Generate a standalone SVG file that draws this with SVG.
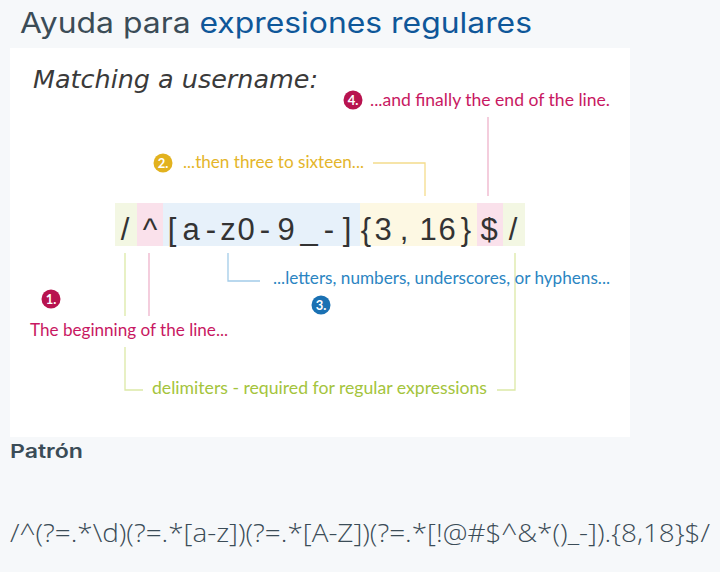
<svg xmlns="http://www.w3.org/2000/svg" width="720" height="572" viewBox="0 0 720 572">
<style>
.lbl{font-family:"Lato","Open Sans","Liberation Sans",sans-serif;font-size:17px}
.mag{fill:#c81862}
.yel{fill:#e4b52a}
.blu{fill:#2b85c2}
.grn{fill:#a4c43c}
.badge-t{font-family:"Lato","Liberation Sans",sans-serif;font-size:13px;font-weight:bold;fill:#fff;text-anchor:middle}
.ln{fill:none;stroke-width:1.3}
.rx{font-family:"Liberation Sans","Lato",sans-serif;font-size:31px;font-weight:normal;fill:#333;text-anchor:middle}
</style>
<rect width="720" height="572" fill="#f6f8fa"/>
<g id="title">
<text x="20" y="33" font-family="Inter,'Open Sans','Liberation Sans',sans-serif" font-size="28" textLength="512" lengthAdjust="spacingAndGlyphs"><tspan fill="#3b4c57">Ayuda para </tspan><tspan fill="#0f5799">expresiones regulares</tspan></text>
</g>
<g id="panel">
<rect x="10" y="48" width="620" height="389" fill="#ffffff"/>
<text x="33" y="88" font-family="'DejaVu Sans',sans-serif" font-style="italic" font-size="24" fill="#3a3a3a" textLength="285" lengthAdjust="spacingAndGlyphs">Matching a username:</text>
</g>
<g id="regex">
<rect x="115" y="203" width="22" height="43" fill="#f3f7e3"/>
<rect x="137" y="203" width="26" height="43" fill="#fae1eb"/>
<rect x="163" y="203" width="197" height="43" fill="#e7f1fa"/>
<rect x="360" y="203" width="117" height="43" fill="#fdf8e3"/>
<rect x="477" y="203" width="26" height="43" fill="#fae1eb"/>
<rect x="503" y="203" width="22" height="43" fill="#f3f7e3"/>
<text class="rx" x="125" y="240">/</text>
<text class="rx" x="150" y="240">^</text>
<text class="rx" x="172" y="240">[</text>
<text class="rx" x="191" y="240">a</text>
<text class="rx" x="211" y="240">-</text>
<text class="rx" x="228" y="240">z</text>
<text class="rx" x="246" y="240">0</text>
<text class="rx" x="265" y="240">-</text>
<text class="rx" x="286" y="240">9</text>
<text class="rx" x="309" y="240">_</text>
<text class="rx" x="329" y="240">-</text>
<text class="rx" x="347" y="240">]</text>
<text class="rx" x="366" y="240">{</text>
<text class="rx" x="383" y="240">3</text>
<text class="rx" x="404" y="240">,</text>
<text class="rx" x="428" y="240">1</text>
<text class="rx" x="447" y="240">6</text>
<text class="rx" x="466" y="240">}</text>
<text class="rx" x="489" y="240">$</text>
<text class="rx" x="513" y="240">/</text>
</g>
<g id="connectors">
<path class="ln" stroke="#eeb3cb" d="M488 117V196"/>
<path class="ln" stroke="#f4dc8c" d="M373 163H425V196"/>
<path class="ln" stroke="#a3cce9" d="M228 253V281H260"/>
<path class="ln" stroke="#eeb3cb" d="M149 253V316"/>
<path class="ln" stroke="#dce9a6" d="M125 253V316"/>
<path class="ln" stroke="#dce9a6" d="M125 347V390H143"/>
<path class="ln" stroke="#dce9a6" d="M497 390H515V253"/>
</g>
<g id="note4">
<circle cx="353" cy="100" r="9.5" fill="#b8134f"/>
<text class="badge-t" x="353" y="104.5">4.</text>
<text class="lbl mag" x="370" y="106" textLength="240" lengthAdjust="spacingAndGlyphs">...and finally the end of the line.</text>
</g>
<g id="note2">
<circle cx="163" cy="163" r="9.5" fill="#e2b21e"/>
<text class="badge-t" x="163" y="167.5">2.</text>
<text class="lbl yel" x="183" y="168" textLength="181" lengthAdjust="spacingAndGlyphs">...then three to sixteen...</text>
</g>
<g id="note3">
<text class="lbl blu" x="273" y="284" textLength="337" lengthAdjust="spacingAndGlyphs">...letters, numbers, underscores, or hyphens...</text>
<circle cx="321" cy="305" r="9.5" fill="#1a71b3"/>
<text class="badge-t" x="321" y="309.5">3.</text>
</g>
<g id="note1">
<circle cx="51" cy="299" r="9.5" fill="#b8134f"/>
<text class="badge-t" x="51" y="303.5">1.</text>
<text class="lbl mag" x="30" y="336" textLength="198" lengthAdjust="spacingAndGlyphs">The beginning of the line...</text>
</g>
<g id="delims">
<text class="lbl grn" x="152" y="394" textLength="335" lengthAdjust="spacingAndGlyphs">delimiters - required for regular expressions</text>
</g>
<g id="pattern">
<text x="10" y="458" font-family="Inter,'Open Sans','Liberation Sans',sans-serif" font-size="19" font-weight="600" fill="#3b4c57" textLength="73" lengthAdjust="spacingAndGlyphs">Patrón</text>
<text x="10" y="542" font-family="'Open Sans','Liberation Sans',sans-serif" font-size="25" font-weight="300" fill="#3b4c57" textLength="700" lengthAdjust="spacingAndGlyphs">/^(?=.*\d)(?=.*[a-z])(?=.*[A-Z])(?=.*[!@#$^&amp;*()_-]).{8,18}$/</text>
</g>
</svg>
